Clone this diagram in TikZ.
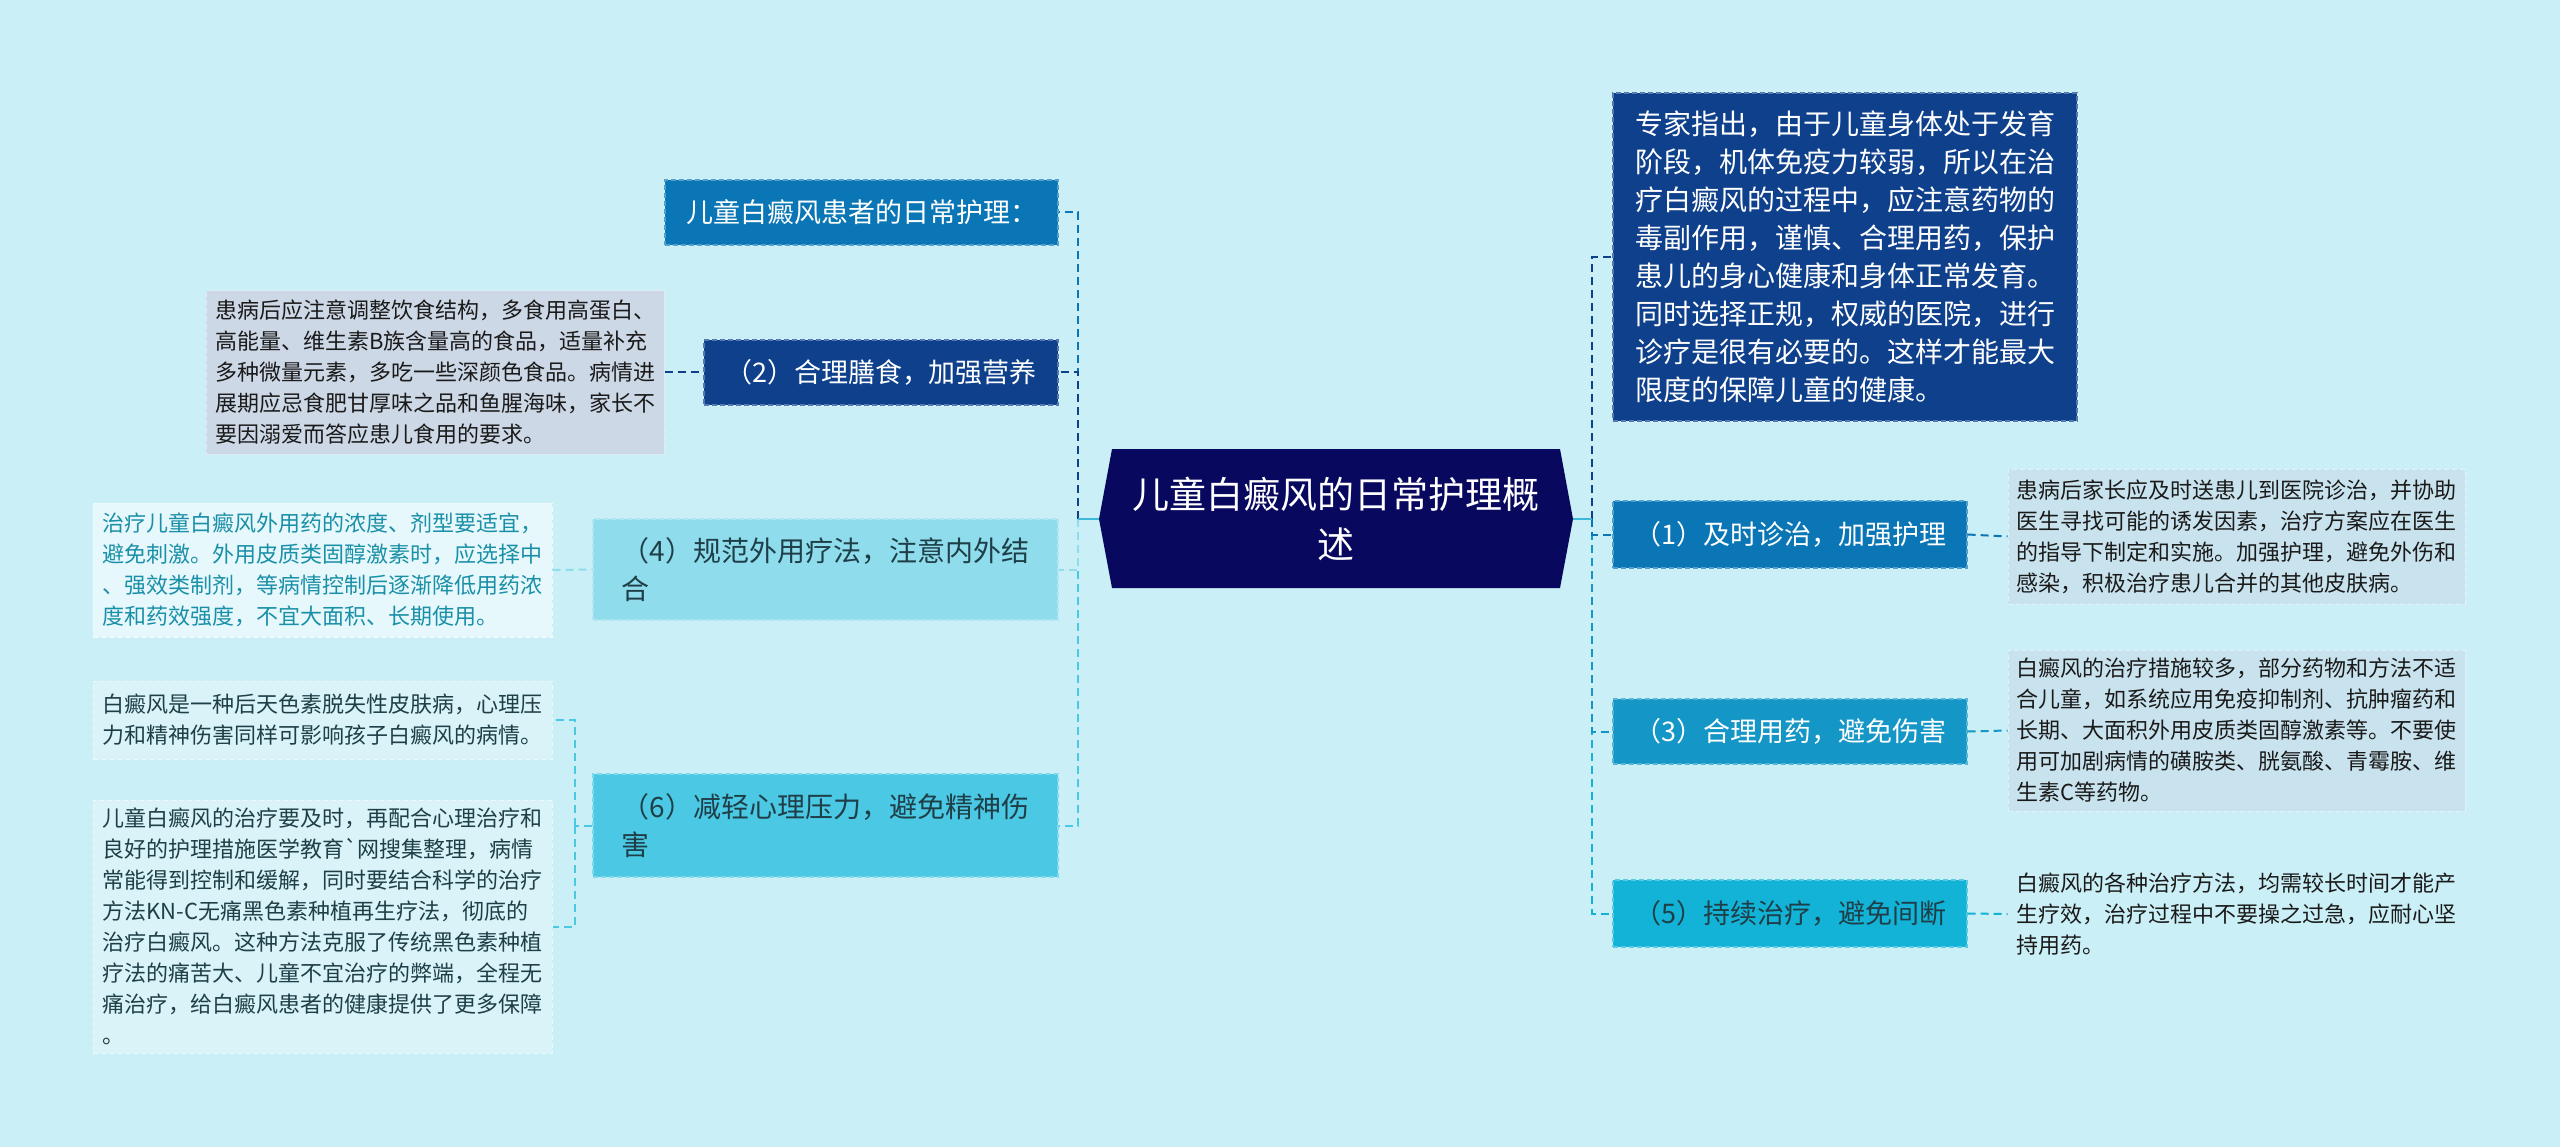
\documentclass[tikz,border=0pt]{standalone}
\usepackage{fontspec}
\setmainfont{Noto Sans CJK SC}
\definecolor{bgcol}{HTML}{CBEFF6}
\definecolor{hubcol}{HTML}{08095E}
\definecolor{navycol}{HTML}{0F408C}
\definecolor{bluecol}{HTML}{0B76B5}
\definecolor{midcol}{HTML}{1496C6}
\definecolor{cyancol}{HTML}{12B3D6}
\definecolor{skycol}{HTML}{4BC8E3}
\definecolor{palecol}{HTML}{8EDCEC}
\definecolor{greyleaf}{HTML}{CDD8E6}
\definecolor{blueleaf}{HTML}{C9E3EE}
\definecolor{whiteleaf}{HTML}{E6F8FB}
\definecolor{skyleaf}{HTML}{D9F3F8}
\definecolor{inkcol}{HTML}{1A1A1A}
\definecolor{tealtext}{HTML}{1A8FA8}
\definecolor{slatecol}{HTML}{1F3F48}
\definecolor{stubcol}{HTML}{3DB8D8}

\begin{document}
\begin{tikzpicture}[x=1pt,y=-1pt,
  branch/.style={fill=#1,draw=#1!70!white,dash pattern=on 5pt off 3pt,line width=1.2pt,inner sep=0pt,align=left,font=\fontsize{27}{38}\selectfont},
  leaf/.style={fill=#1,draw=#1!50!white,dash pattern=on 5pt off 3pt,line width=1pt,inner sep=0pt,align=left,font=\fontsize{22}{31}\selectfont,text=inkcol},
  link/.style={draw=#1,dash pattern=on 8pt off 5pt,line width=2pt},
  stub/.style={draw=stubcol,line width=2.5pt}]
  \useasboundingbox (0,0) rectangle (2560,1147);
  \fill[bgcol] (0,0) rectangle (2560,1147);
  \fill[hubcol] (1099,519) -- (1112,449) -- (1560,449) -- (1573,519) -- (1560,588) -- (1112,588) -- cycle;
  \node[minimum width=474pt,minimum height=139pt,align=center,text=white,font=\fontsize{37}{50}\selectfont] (hub) at (1336,519) {儿童白癜风的日常护理概\\述};

  \node[branch=bluecol,text=white,minimum width=393pt,minimum height=65pt] (care) at (861.5,212.5) {儿童白癜风患者的日常护理：};
  \node[branch=navycol,text=white,minimum width=354pt,minimum height=65pt] (diet) at (881,372.5) {（2）合理膳食，加强营养};
  \node[branch=palecol,text=slatecol,minimum width=465pt,minimum height=101pt,font=\fontsize{28}{38}\selectfont] (topical) at (825.5,569.5) {（4）规范外用疗法，注意内外结\\合};
  \node[branch=skycol,text=slatecol,minimum width=465pt,minimum height=103pt,font=\fontsize{28}{38}\selectfont] (mind) at (825.5,825.5) {（6）减轻心理压力，避免精神伤\\害};
  \node[branch=navycol,text=white,minimum width=464pt,minimum height=328pt,font=\fontsize{28}{38}\selectfont] (expert) at (1845,257) {专家指出，由于儿童身体处于发育\\阶段，机体免疫力较弱，所以在治\\疗白癜风的过程中，应注意药物的\\毒副作用，谨慎、合理用药，保护\\患儿的身心健康和身体正常发育。\\同时选择正规，权威的医院，进行\\诊疗是很有必要的。这样才能最大\\限度的保障儿童的健康。};
  \node[branch=bluecol,text=white,minimum width=354pt,minimum height=67pt] (visit) at (1790,534.5) {（1）及时诊治，加强护理};
  \node[branch=midcol,text=white,minimum width=354pt,minimum height=65pt] (drug) at (1790,731.5) {（3）合理用药，避免伤害};
  \node[branch=cyancol,text=slatecol,minimum width=354pt,minimum height=67pt] (keep) at (1790,913.5) {（5）持续治疗，避免间断};

  \node[leaf=greyleaf,minimum width=458pt,minimum height=163pt] (dietnote) at (435,372.5) {患病后应注意调整饮食结构，多食用高蛋白、\\高能量、维生素B族含量高的食品，适量补充\\多种微量元素，多吃一些深颜色食品。病情进\\展期应忌食肥甘厚味之品和鱼腥海味，家长不\\要因溺爱而答应患儿食用的要求。};
  \node[leaf=whiteleaf,text=tealtext,minimum width=459pt,minimum height=134pt] (topicalnote) at (322.5,570) {治疗儿童白癜风外用药的浓度、剂型要适宜，\\避免刺激。外用皮质类固醇激素时，应选择中\\、强效类制剂，等病情控制后逐渐降低用药浓\\度和药效强度，不宜大面积、长期使用。};
  \node[leaf=skyleaf,text=slatecol,minimum width=459pt,minimum height=78pt] (mindnote) at (322.5,720) {白癜风是一种后天色素脱失性皮肤病，心理压\\力和精神伤害同样可影响孩子白癜风的病情。};
  \node[leaf=skyleaf,text=slatecol,minimum width=459pt,minimum height=253pt] (curenote) at (322.5,926.5) {儿童白癜风的治疗要及时，再配合心理治疗和\\良好的护理措施医学教育\textasciigrave 网搜集整理，病情\\常能得到控制和缓解，同时要结合科学的治疗\\方法KN-C无痛黑色素种植再生疗法，彻底的\\治疗白癜风。这种方法克服了传统黑色素种植\\疗法的痛苦大、儿童不宜治疗的弊端，全程无\\痛治疗，给白癜风患者的健康提供了更多保障\\。};
  \node[leaf=blueleaf,minimum width=457pt,minimum height=135pt] (visitnote) at (2236.5,536.5) {患病后家长应及时送患儿到医院诊治，并协助\\医生寻找可能的诱发因素，治疗方案应在医生\\的指导下制定和实施。加强护理，避免外伤和\\感染，积极治疗患儿合并的其他皮肤病。};
  \node[leaf=blueleaf,minimum width=457pt,minimum height=161pt] (drugnote) at (2236.5,730.5) {白癜风的治疗措施较多，部分药物和方法不适\\合儿童，如系统应用免疫抑制剂、抗肿瘤药和\\长期、大面积外用皮质类固醇激素等。不要使\\用可加剧病情的磺胺类、胱氨酸、青霉胺、维\\生素C等药物。};
  \node[leaf=bgcol,draw=none,minimum width=457pt,minimum height=98pt] (keepnote) at (2236.5,914) {白癜风的各种治疗方法，均需较长时间才能产\\生疗效，治疗过程中不要操之过急，应耐心坚\\持用药。};

  \coordinate (trunkL) at (1078,519);
  \coordinate (trunkR) at (1592,519);
  \coordinate (forkL) at (575,825.5);
  \draw[link=bluecol] (trunkL) |- (care.east);
  \draw[link=navycol] (trunkL) |- (diet.east);
  \draw[link=skycol] (trunkL) |- (mind.east);
  \draw[link=palecol] (trunkL) |- (topical.east);
  \draw[link=navycol] (trunkR) |- (expert.west);
  \draw[link=cyancol] (trunkR) |- (keep.west);
  \draw[link=midcol] (trunkR) |- (drug.west);
  \draw[link=bluecol] (trunkR) |- (visit.west);
  \draw[stub] (hub.west) -- (trunkL);
  \draw[stub] (hub.east) -- (trunkR);
  \draw[link=navycol] (dietnote.east) -- (diet.west);
  \draw[link=palecol] (topicalnote.east) -- (topical.west);
  \draw[link=skycol] (mind.west) -- (forkL);
  \draw[link=skycol] (forkL) |- (mindnote.east);
  \draw[link=skycol] (forkL) |- (curenote.east);
  \draw[link=bluecol] (visit.east) -- (visitnote.west);
  \draw[link=midcol] (drug.east) -- (drugnote.west);
  \draw[link=cyancol] (keep.east) -- (keepnote.west);
\end{tikzpicture}
\end{document}
